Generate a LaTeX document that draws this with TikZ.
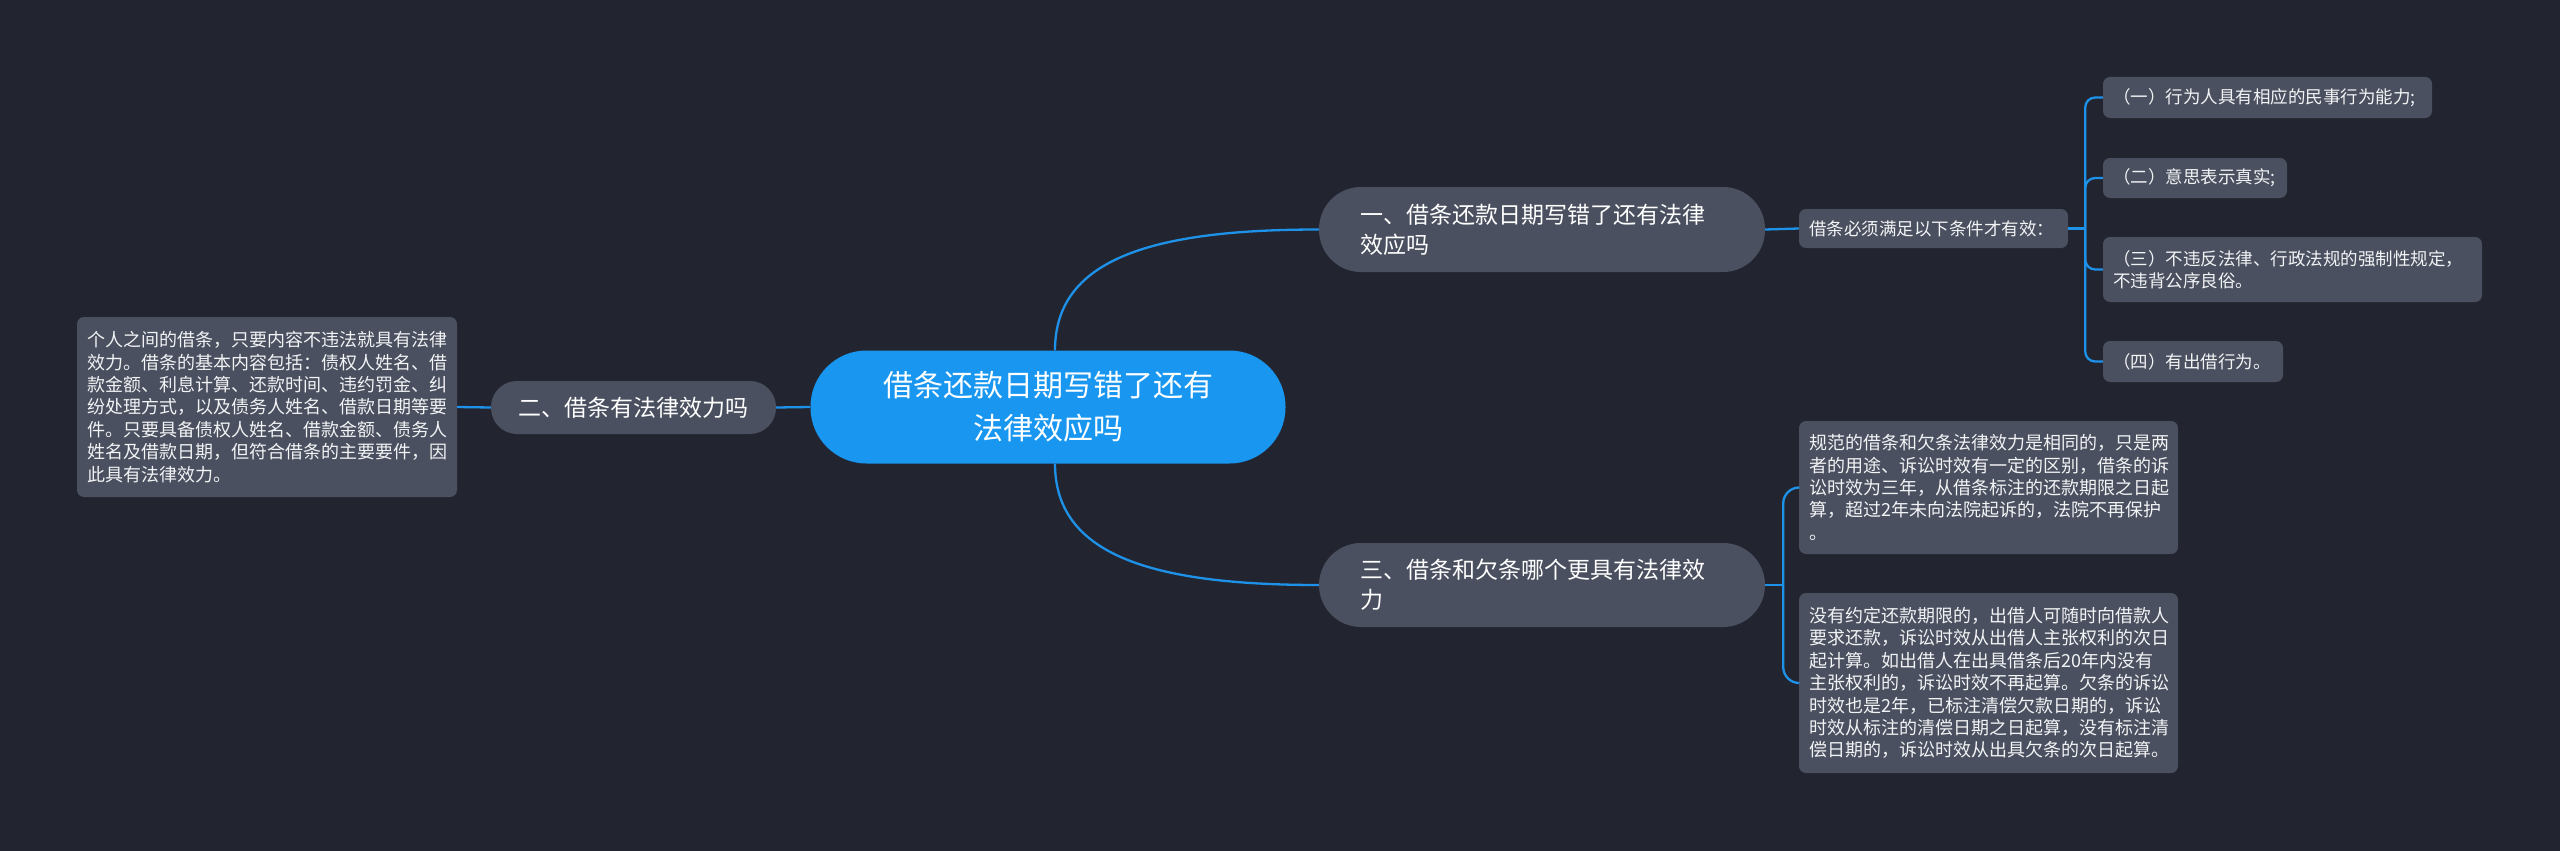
\documentclass[tikz,border=0pt]{standalone}
\usepackage{fontspec}
\setmainfont{Noto Sans CJK SC}
\usetikzlibrary{calc}
\definecolor{bg}{RGB}{34,37,48}
\definecolor{nodegray}{RGB}{74,80,95}
\definecolor{mainblue}{RGB}{24,150,240}
\definecolor{linkblue}{RGB}{30,146,232}
\definecolor{leaftext}{RGB}{242,243,245}
\tikzset{
  link/.style={draw=linkblue, line width=2.3pt},
  mainbox/.style={fill=mainblue, text=white, rounded corners=56pt, inner sep=0pt,
    minimum width=475pt, minimum height=113pt, align=center,
    font=\fontsize{30}{43}\selectfont},
  branchbox/.style={fill=nodegray, text=white, inner ysep=0pt, inner xsep=41pt,
    align=left, font=\fontsize{23}{30}\selectfont},
  leafbox/.style={fill=nodegray, text=leaftext, rounded corners=7pt, inner ysep=0pt,
    inner xsep=10pt, align=left, font=\fontsize{18}{22.4}\selectfont},
  smallleaf/.style={leafbox, font=\fontsize{17.5}{22.4}\selectfont}
}
\begin{document}
\begin{tikzpicture}[x=1pt,y=-1pt]
\fill[bg] (0,0) rectangle (2560,851);
\useasboundingbox (0,0) rectangle (2560,851);

\node[mainbox] (c) at (1048,407) {借条还款日期写错了还有\\法律效应吗};

\node[branchbox, rounded corners=42pt, text width=364pt, minimum height=85pt] (b1) at (1542,229.5)
  {一、借条还款日期写错了还有法律\\效应吗};
\node[branchbox, rounded corners=26pt, inner xsep=0pt, text width=285pt, align=center, minimum height=53pt] (b2) at (633.5,407.5)
  {二、借条有法律效力吗};
\node[branchbox, rounded corners=42pt, text width=364pt, minimum height=84pt] (b3) at (1542,585)
  {三、借条和欠条哪个更具有法律效\\力};

\node[leafbox, text width=360pt, minimum height=180pt] (L) at (267,407)
  {个人之间的借条，只要内容不违法就具有法律\\效力。借条的基本内容包括：债权人姓名、借\\款金额、利息计算、还款时间、违约罚金、纠\\纷处理方式，以及债务人姓名、借款日期等要\\件。只要具备债权人姓名、借款金额、债务人\\姓名及借款日期，但符合借条的主要要件，因\\此具有法律效力。};

\node[smallleaf, text width=249pt, minimum height=39pt] (cond) at (1933.5,228.5)
  {借条必须满足以下条件才有效：};

\node[smallleaf, text width=309pt, minimum height=41pt] (r1) at (2267.5,97.5)
  {（一）行为人具有相应的民事行为能力;};
\node[smallleaf, text width=164pt, minimum height=40pt] (r2) at (2195,178)
  {（二）意思表示真实;};
\node[smallleaf, text width=359pt, minimum height=65pt] (r3) at (2292.5,269.5)
  {（三）不违反法律、行政法规的强制性规定，\\不违背公序良俗。};
\node[smallleaf, text width=160pt, minimum height=41pt] (r4) at (2193,361.5)
  {（四）有出借行为。};

\node[leafbox, text width=359pt, minimum height=133pt] (A) at (1988.5,487.5)
  {规范的借条和欠条法律效力是相同的，只是两\\者的用途、诉讼时效有一定的区别，借条的诉\\讼时效为三年，从借条标注的还款期限之日起\\算，超过2年未向法院起诉的，法院不再保护\\。};
\node[leafbox, text width=359pt, minimum height=180pt] (B) at (1988.5,683)
  {没有约定还款期限的，出借人可随时向借款人\\要求还款，诉讼时效从出借人主张权利的次日\\起计算。如出借人在出具借条后20年内没有\\主张权利的，诉讼时效不再起算。欠条的诉讼\\时效也是2年，已标注清偿欠款日期的，诉讼\\时效从标注的清偿日期之日起算，没有标注清\\偿日期的，诉讼时效从出具欠条的次日起算。};

% connectors
\draw[link] ($(c.north)+(7,0)$) .. controls +(0,-90) and +(-170,0) .. (b1.west);
\draw[link] ($(c.south)+(7,0)$) .. controls +(0,90) and +(-170,0) .. (b3.west);
\draw[link] (c.west) -- (b2.east);
\draw[link] (b2.west) -- (L.east);
\draw[link] (b1.east) -- (cond.west);

\coordinate (j1) at ($(cond.east)+(17,0)$);
\draw[link] (cond.east) -- (j1);
\foreach \t in {r1,r2,r3,r4}
  \draw[link, rounded corners=10pt] (j1) |- (\t.west);

\coordinate (j2) at ($(b3.east)+(18,0)$);
\draw[link] (b3.east) -- (j2);
\foreach \t in {A,B}
  \draw[link, rounded corners=16pt] (j2) |- (\t.west);
\end{tikzpicture}
\end{document}
